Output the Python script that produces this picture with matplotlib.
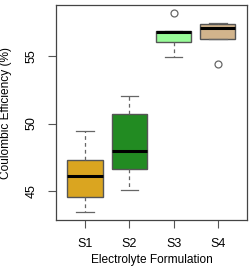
import matplotlib
matplotlib.use("Agg")
import matplotlib.pyplot as plt

categories = ["S1", "S2", "S3", "S4"]
whislo = [43.42, 45.10, 54.95, 56.28]
q1 = [44.53, 46.63, 56.06, 56.28]
med = [46.09, 47.99, 56.80, 57.10]
q3 = [47.27, 50.68, 56.87, 57.35]
whishi = [49.47, 52.06, 56.87, 57.42]
outliers = [[], [], [58.16], [54.38]]
colors = ["#DAA520", "#228B22", "#98FB98", "#D2B48C"]
yticks = [45, 50, 55]

plt.rcParams['font.family'] = ['Liberation Sans', 'DejaVu Sans']

fig = plt.figure(figsize=(2.51, 2.67), dpi=100)
ax = fig.add_axes([0.223, 0.176, 0.761, 0.805])

stats = []
for i, c in enumerate(categories):
    stats.append(dict(label=c, whislo=whislo[i], q1=q1[i], med=med[i],
                      q3=q3[i], whishi=whishi[i], fliers=outliers[i]))

edge = "#555555"
bp = ax.bxp(stats, positions=range(1, 5), widths=0.8, patch_artist=True,
            boxprops=dict(edgecolor=edge, linewidth=1.0),
            medianprops=dict(color="black", linewidth=2.2),
            whiskerprops=dict(color="#666666", linewidth=0.9, linestyle=(0, (3, 2.5))),
            capprops=dict(color="#666666", linewidth=0.9),
            flierprops=dict(marker='o', markerfacecolor='none', markeredgecolor='#666666',
                            markersize=5, markeredgewidth=0.9),
            capwidths=0.4)
for patch, col in zip(bp['boxes'], colors):
    patch.set_facecolor(col)

ax.set_xlim(0.34, 4.66)
ax.set_ylim(42.85, 58.78)
ax.set_yticks(yticks)
ax.set_yticklabels([str(t) for t in yticks], rotation=90, va='center')
ax.set_xticks(range(1, 5))
ax.set_xticklabels(categories)
ax.tick_params(axis='both', direction='out', length=6, width=0.8, color='#555555',
               labelsize=9, pad=7)
for s in ax.spines.values():
    s.set_color('#444444')
    s.set_linewidth(0.9)
ax.set_xlabel("Electrolyte Formulation", fontsize=8.6, labelpad=3)
ax.set_ylabel("Coulombic Efficiency (%)", fontsize=8.6, labelpad=10)

fig.savefig("out.png", dpi=100)
